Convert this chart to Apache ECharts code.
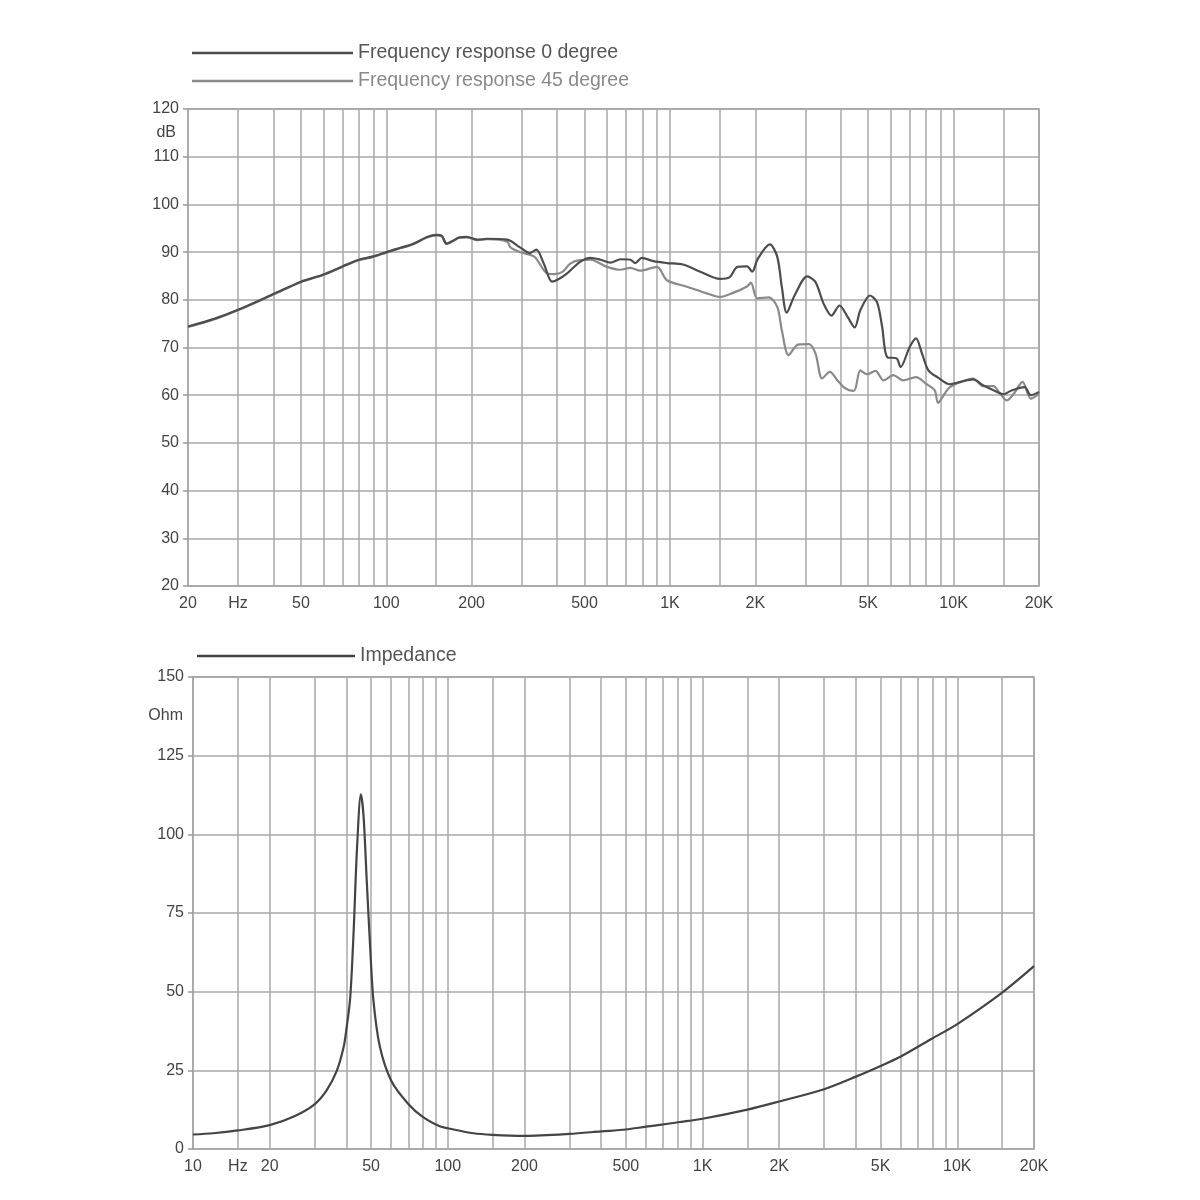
<!DOCTYPE html>
<html>
<head>
<meta charset="utf-8">
<script src="https://cdn.jsdelivr.net/npm/echarts@6/dist/echarts.min.js"></script>
<style>
html,body{margin:0;padding:0;background:#fff;}
#chart{width:1200px;height:1200px;}
</style>
</head>
<body>
<div id="chart"></div>
<script>
// ---------- Frequency response data ----------
const freq0 = [20,25,30,40,50,60,70,80,90,100,112,124,140,150,157,163,172,181,192,210,227,267,296,321,338,359,384,404,433,481,524,570,617,669,725,755,796,874,976,1110,1280,1500,1620,1730,1870,1950,2040,2250,2390,2480,2580,2750,3050,3260,3480,3710,3960,4230,4480,4690,5070,5370,5600,5830,6300,6500,7000,7370,7740,8150,8810,9700,10600,11700,12700,14000,15000,16000,17800,18700,20000];
const spl0  = [74.4,76.1,77.9,81.2,83.8,85.3,87.0,88.4,89.1,90.0,90.9,91.7,93.2,93.6,93.4,91.8,92.4,93.1,93.2,92.6,92.8,92.6,91.0,89.8,90.5,87.6,83.8,84.3,85.5,87.9,88.8,88.4,87.8,88.5,88.4,87.7,88.8,88.1,87.7,87.4,85.9,84.4,84.7,86.9,87.0,85.9,88.6,91.6,89.0,82.7,77.3,80.9,84.9,83.7,79.2,76.7,78.8,76.4,74.2,77.8,80.9,79.5,74.3,68.0,67.7,65.9,70.1,71.9,68.7,65.2,63.7,62.3,62.8,63.3,62.1,60.9,60.2,61.0,61.7,60.0,60.7];

const freq45 = [20,25,30,40,50,60,70,80,90,100,112,124,140,150,157,163,172,181,192,210,227,267,274,296,333,370,390,419,445,481,524,600,669,725,785,900,976,1140,1340,1500,1660,1870,1930,2030,2230,2390,2480,2620,2830,3090,3260,3440,3660,3910,4160,4450,4690,4950,5300,5670,6130,6630,7370,8000,8580,8810,9300,9700,10600,11700,12700,13800,14600,15400,16300,17500,18700,20000];
const spl45  = [74.3,76.0,77.8,81.1,83.7,85.2,86.9,88.3,89.0,89.9,90.8,91.6,93.1,93.5,93.3,91.7,92.3,93.0,93.1,92.5,92.7,92.2,91.0,90.0,89.0,85.5,85.4,85.9,87.6,88.3,88.4,86.9,86.3,86.7,86.1,86.9,84.1,82.8,81.4,80.6,81.4,82.8,83.6,80.3,80.5,78.5,73.6,68.4,70.6,70.7,68.7,63.5,64.9,63.0,61.4,60.9,65.2,64.4,65.1,63.1,64.2,63.1,63.8,62.4,61.0,58.4,60.3,61.7,62.8,63.5,61.9,61.9,60.3,58.9,60.3,62.8,59.3,60.3];

// ---------- Impedance data ----------
const impFreq = [10,12,15,20,25,30,33.5,36.7,39,40,41.4,42.7,44,45.6,46.7,48.1,49.6,51.1,54.2,60,70,80,93,100,126,150,200,300,400,500,600,700,800,1000,1500,2000,3000,4000,5000,6000,8000,10000,15000,20000];
const impOhm  = [4.6,5.0,5.9,7.6,10.4,14.2,18.7,24.9,32.3,38.0,48,69,95,112.7,106,85,64,47,32.3,21.7,14.3,10.1,7.2,6.6,5.0,4.5,4.2,4.8,5.6,6.2,7.1,7.8,8.5,9.6,12.5,15.1,19.0,23.0,26.4,29.4,35.2,39.7,49.7,58.1];

// ---------- Axis ticks / gridlines ----------
const topGridFreqs = [20,30,40,50,60,70,80,90,100,150,200,300,400,500,600,700,800,900,1000,1500,2000,3000,4000,5000,6000,7000,8000,9000,10000,15000,20000];
const topLabelFreqs = [20,30,50,100,200,500,1000,2000,5000,10000,20000];
const botGridFreqs = [10,15,20,30,40,50,60,70,80,90,100,150,200,300,400,500,600,700,800,900,1000,1500,2000,3000,4000,5000,6000,7000,8000,9000,10000,15000,20000];
const botLabelFreqs = [10,15,20,50,100,200,500,1000,2000,5000,10000,20000];
const topHzAt = 30, botHzAt = 15;

const names = ['Frequency response 0 degree','Frequency response 45 degree','Impedance'];

function zip(a,b){ return a.map((v,i)=>[v,b[i]]); }
function fmtFreq(hzAt){
  return function(v){
    v = Math.round(v);
    if (v === hzAt) return 'Hz';
    if (v >= 1000) return (v/1000) + 'K';
    return String(v);
  };
}

const FONT = 'Liberation Sans, Arial, sans-serif';
const gridColor = '#a8a8a8';
const labelColor = '#444';

const chart = echarts.init(document.getElementById('chart'), null, {renderer:'canvas'});
const option = {
  backgroundColor: '#fff',
  animation: false,
  textStyle: {fontFamily: FONT},
  legend: [
    {
      orient: 'vertical', left: 187, top: 38, itemGap: 8,
      icon: 'rect', itemWidth: 161, itemHeight: 2.5,
      textStyle: {fontSize: 19.5, fontFamily: FONT},
      data: [
        {name: names[0], textStyle: {color: '#555'}},
        {name: names[1], textStyle: {color: '#8a8a8a'}}
      ],
      selectedMode: false
    },
    {
      orient: 'vertical', left: 192, top: 641,
      icon: 'rect', itemWidth: 158, itemHeight: 2.5,
      textStyle: {fontSize: 19.5, fontFamily: FONT, color: '#555'},
      data: [names[2]],
      selectedMode: false
    }
  ],
  grid: [
    {left: 188, top: 109, width: 851, height: 477, show: true, borderColor: '#999', borderWidth: 1.5, backgroundColor: 'transparent'},
    {left: 193, top: 677, width: 841, height: 472, show: true, borderColor: '#999', borderWidth: 1.5, backgroundColor: 'transparent'}
  ],
  xAxis: [
    {
      type: 'log', logBase: 10, gridIndex: 0, min: 20, max: 20000,
      axisLine: {show: false},
      axisTick: {show: false, customValues: topGridFreqs},
      axisLabel: {customValues: topLabelFreqs, formatter: fmtFreq(topHzAt), color: labelColor, fontSize: 16, margin: 10, fontFamily: FONT},
      splitLine: {show: true, lineStyle: {color: gridColor, width: 1.5}}
    },
    {
      type: 'log', logBase: 10, gridIndex: 1, min: 10, max: 20000,
      axisLine: {show: false},
      axisTick: {show: false, customValues: botGridFreqs},
      axisLabel: {customValues: botLabelFreqs, formatter: fmtFreq(botHzAt), color: labelColor, fontSize: 16, margin: 10, fontFamily: FONT},
      splitLine: {show: true, lineStyle: {color: gridColor, width: 1.5}}
    }
  ],
  yAxis: [
    {
      type: 'value', gridIndex: 0, min: 20, max: 120, interval: 10,
      name: 'dB', nameLocation: 'end', nameGap: -24,
      nameTextStyle: {color: labelColor, fontSize: 16, align: 'right', verticalAlign: 'middle', padding: [0, 12, 0, 0], fontFamily: FONT},
      axisLine: {show: false},
      axisTick: {show: true, length: 5, lineStyle: {color: '#999', width: 1.5}},
      axisLabel: {color: labelColor, fontSize: 16, margin: 9, fontFamily: FONT},
      splitLine: {show: true, lineStyle: {color: gridColor, width: 1.5}}
    },
    {
      type: 'value', gridIndex: 1, min: 0, max: 150, interval: 25,
      name: 'Ohm', nameLocation: 'end', nameGap: -39,
      nameTextStyle: {color: labelColor, fontSize: 16, align: 'right', verticalAlign: 'middle', padding: [0, 10, 0, 0], fontFamily: FONT},
      axisLine: {show: false},
      axisTick: {show: true, length: 5, lineStyle: {color: '#999', width: 1.5}},
      axisLabel: {color: labelColor, fontSize: 16, margin: 9, fontFamily: FONT},
      splitLine: {show: true, lineStyle: {color: gridColor, width: 1.5}}
    }
  ],
  series: [
    {
      name: names[1], type: 'line', xAxisIndex: 0, yAxisIndex: 0,
      data: zip(freq45, spl45), showSymbol: false, smooth: 0.3,
      lineStyle: {color: '#8a8a8a', width: 2.2}, itemStyle: {color: '#8a8a8a'}, z: 3
    },
    {
      name: names[0], type: 'line', xAxisIndex: 0, yAxisIndex: 0,
      data: zip(freq0, spl0), showSymbol: false, smooth: 0.3,
      lineStyle: {color: '#4d4d4d', width: 2.2}, itemStyle: {color: '#4d4d4d'}, z: 4
    },
    {
      name: names[2], type: 'line', xAxisIndex: 1, yAxisIndex: 1,
      data: zip(impFreq, impOhm), showSymbol: false, smooth: 0.3,
      lineStyle: {color: '#444', width: 2.2}, itemStyle: {color: '#444'}, z: 4
    }
  ]
};
chart.setOption(option);
</script>
</body>
</html>
